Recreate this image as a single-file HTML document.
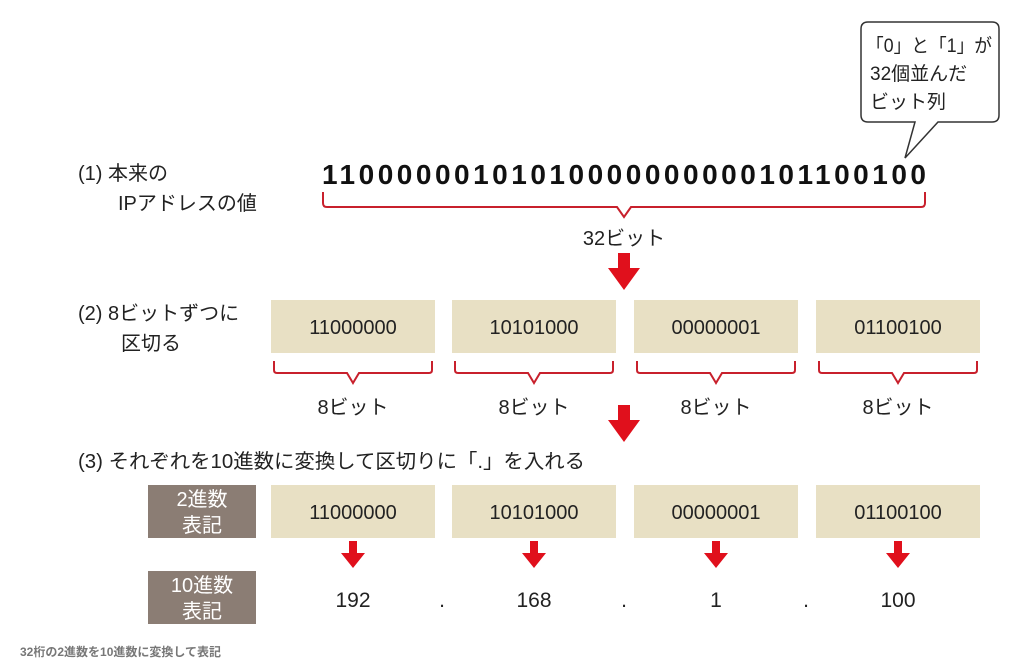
<!DOCTYPE html>
<html><head><meta charset="utf-8"><style>
html,body{margin:0;padding:0;background:#fff}
svg{display:block}
text{font-family:"Liberation Sans","Noto Sans CJK JP",sans-serif;fill:#222}
</style></head><body>
<svg width="1023" height="672" viewBox="0 0 1023 672" xmlns="http://www.w3.org/2000/svg">
<!-- callout -->
<path d="M868,22 H992 Q999,22 999,29 V115 Q999,122 992,122 H938 L905,158 L915,122 H868 Q861,122 861,115 V29 Q861,22 868,22 Z" fill="#fff" stroke="#333" stroke-width="1.5"/>
<text x="866" y="52" font-size="19" textLength="126" lengthAdjust="spacingAndGlyphs">「0」と「1」が</text>
<text x="870" y="80" font-size="19">32個並んだ</text>
<text x="870" y="108" font-size="19">ビット列</text>
<!-- (1) -->
<text x="78" y="180" font-size="20">(1) 本来の</text>
<text x="118" y="210" font-size="20">IPアドレスの値</text>
<text x="322" y="184" font-size="28" textLength="604" lengthAdjust="spacing" style="font-weight:bold;fill:#111">11000000101010000000000101100100</text>
<path d="M323,192 V203 Q323,207 327,207 H617 L624,217 L631,207 H921 Q925,207 925,203 V192" fill="none" stroke="#c8202c" stroke-width="2"/>
<text x="624" y="245" font-size="20" text-anchor="middle">32ビット</text>
<g fill="#e0101c">
<path d="M618,253 H630 V268 H640 L624,290 L608,268 H618 Z"/>
<path d="M618,405 H630 V420 H640 L624,442 L608,420 H618 Z"/>
</g>
<!-- (2) -->
<text x="78" y="320" font-size="20">(2) 8ビットずつに</text>
<text x="121" y="350" font-size="20">区切る</text>
<g fill="#e8e0c4">
<rect x="271" y="300" width="164" height="53"/><rect x="452" y="300" width="164" height="53"/>
<rect x="634" y="300" width="164" height="53"/><rect x="816" y="300" width="164" height="53"/>
<rect x="271" y="485" width="164" height="53"/><rect x="452" y="485" width="164" height="53"/>
<rect x="634" y="485" width="164" height="53"/><rect x="816" y="485" width="164" height="53"/>
</g>
<g font-size="20" text-anchor="middle">
<text x="353" y="334">11000000</text><text x="534" y="334">10101000</text>
<text x="716" y="334">00000001</text><text x="898" y="334">01100100</text>
<text x="353" y="519">11000000</text><text x="534" y="519">10101000</text>
<text x="716" y="519">00000001</text><text x="898" y="519">01100100</text>
</g>
<g fill="none" stroke="#c8202c" stroke-width="2">
<path d="M274,361 V370 Q274,373 277,373 H347 L353,383 L359,373 H429 Q432,373 432,370 V361"/>
<path d="M455,361 V370 Q455,373 458,373 H528 L534,383 L540,373 H610 Q613,373 613,370 V361"/>
<path d="M637,361 V370 Q637,373 640,373 H710 L716,383 L722,373 H792 Q795,373 795,370 V361"/>
<path d="M819,361 V370 Q819,373 822,373 H892 L898,383 L904,373 H974 Q977,373 977,370 V361"/>
</g>
<g font-size="20" text-anchor="middle">
<text x="353" y="414">8ビット</text><text x="534" y="414">8ビット</text>
<text x="716" y="414">8ビット</text><text x="898" y="414">8ビット</text>
</g>
<!-- (3) -->
<text x="78" y="468" font-size="20" textLength="507" lengthAdjust="spacingAndGlyphs">(3) それぞれを10進数に変換して区切りに「.」を入れる</text>
<rect x="148" y="485" width="108" height="53" fill="#8b7d74"/>
<rect x="148" y="571" width="108" height="53" fill="#8b7d74"/>
<g font-size="20" text-anchor="middle">
<text x="202" y="506" style="fill:#fff">2進数</text><text x="202" y="532" style="fill:#fff">表記</text>
<text x="202" y="592" style="fill:#fff">10進数</text><text x="202" y="618" style="fill:#fff">表記</text>
</g>
<g fill="#e0101c">
<path d="M349,541 H357 V553 H365 L353,568 L341,553 H349 Z"/>
<path d="M530,541 H538 V553 H546 L534,568 L522,553 H530 Z"/>
<path d="M712,541 H720 V553 H728 L716,568 L704,553 H712 Z"/>
<path d="M894,541 H902 V553 H910 L898,568 L886,553 H894 Z"/>
</g>
<g font-size="21" text-anchor="middle">
<text x="353" y="607">192</text><text x="534" y="607">168</text>
<text x="716" y="607">1</text><text x="898" y="607">100</text>
<text x="442" y="607">.</text><text x="624" y="607">.</text><text x="806" y="607">.</text>
</g>
<text x="20" y="656" font-size="12" font-weight="bold" style="fill:#777">32桁の2進数を10進数に変換して表記</text>
</svg>
</body></html>
